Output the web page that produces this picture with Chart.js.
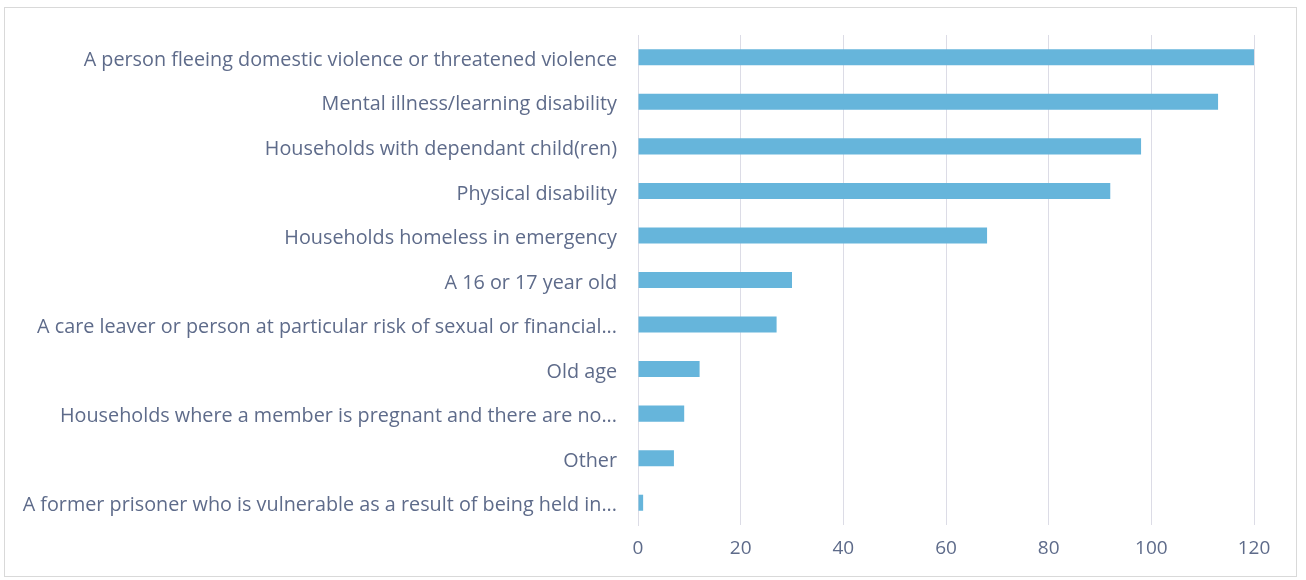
<!DOCTYPE html>
<html>
<head>
<meta charset="utf-8">
<script src="https://cdn.jsdelivr.net/npm/chart.js@4"></script>
<style>
  body { margin: 0; background: #fff; }
  #wrap { position: relative; width: 1306px; height: 580px; }
  #frame { position: absolute; left: 4px; top: 7px; width: 1293px; height: 570px; border: 1px solid #d9d9d9; box-sizing: border-box; }
  #mycanvas { position: absolute; left: 0; top: 0; }
</style>
</head>
<body>
<div id="wrap">
  <div id="frame"></div>
  <canvas id="mycanvas" width="1306" height="580"></canvas>
</div>
<script>
var categories = [
	"A person fleeing domestic violence or threatened violence",
	"Mental illness/learning disability",
	"Households with dependant child(ren)",
	"Physical disability",
	"Households homeless in emergency",
	"A 16 or 17 year old",
	"A care leaver or person at particular risk of sexual or financial...",
	"Old age",
	"Households where a member is pregnant and there are no...",
	"Other",
	"A former prisoner who is vulnerable as a result of being held in..."
];
var values = [120, 113, 98, 92, 68, 30, 27, 12, 9, 7, 1];
var xTicks = [0, 20, 40, 60, 80, 100, 120];

var textColor = '#5e6b8a';
var gridColor = '#dcdce6';

var ctx = document.getElementById('mycanvas');

var barGraph = new Chart(ctx, {
	type: 'bar',
	data: {
		labels: categories,
		datasets: [{
			label: 'count',
			data: values,
			backgroundColor: '#66b5db',
			borderColor: '#66b5db',
			barPercentage: 0.36,
			categoryPercentage: 1.0
		}]
	},
	options: {
		indexAxis: 'y',
		responsive: false,
		animation: false,
		layout: { padding: { top: 35, right: 52, bottom: 0, left: 0 } },
		plugins: {
			legend: { display: false },
			tooltip: { enabled: false }
		},
		scales: {
			x: {
				min: 0,
				max: 120,
				afterBuildTicks: function(scale) {
					scale.ticks = xTicks.map(function(v) { return { value: v }; });
				},
				afterFit: function(scale) { scale.height = 55; },
				grid: { color: gridColor, lineWidth: 1, drawTicks: false },
				border: { display: false },
				ticks: {
					color: textColor,
					padding: 12,
					font: { family: 'Open Sans', size: 19 }
				}
			},
			y: {
				afterFit: function(scale) { scale.width = 638; },
				grid: { display: false, drawTicks: false },
				border: { display: true, color: gridColor },
				ticks: {
					color: textColor,
					padding: 21,
					labelOffset: 3,
					autoSkip: false,
					font: { family: 'Open Sans', size: 19.8 }
				}
			}
		}
	}
});
</script>
</body>
</html>
